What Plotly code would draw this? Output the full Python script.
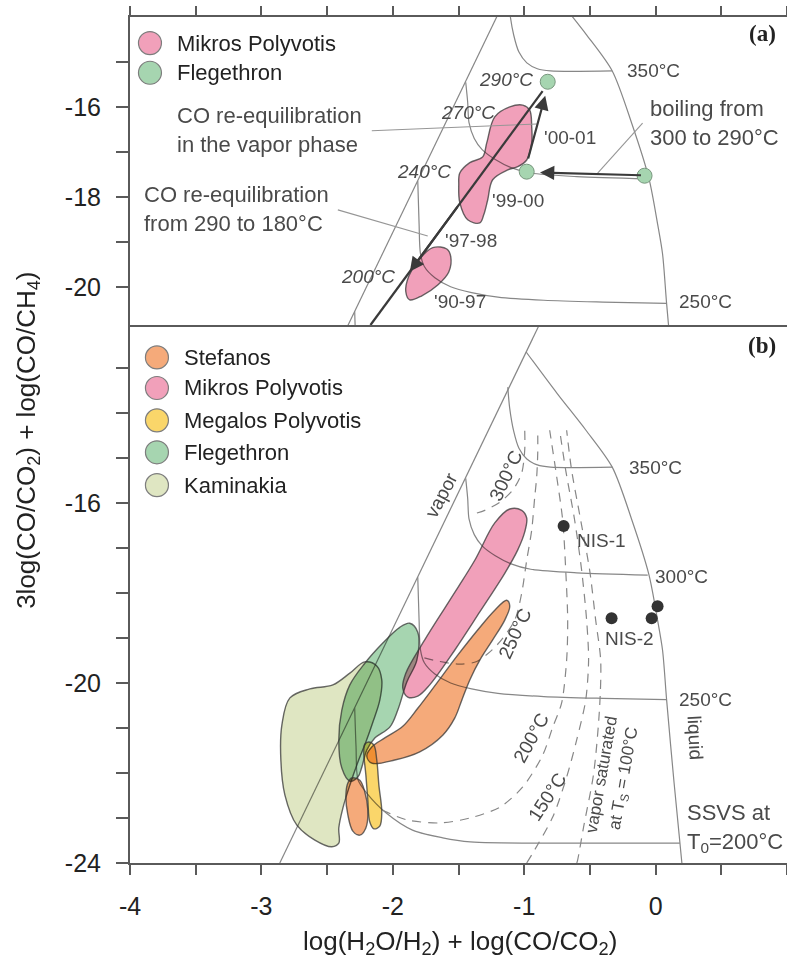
import plotly.graph_objects as go

# ---------------- styling ----------------
FONT = "Liberation Sans, Arial, Helvetica, sans-serif"
SERIF = "Liberation Serif, Times New Roman, serif"
INK = "#222222"
LABEL = "#4a4a4a"
GRID = "rgb(135,135,135)"
AXIS = "#5a5a5a"
EDGE = "rgba(55,55,55,0.75)"
ARROW = "#3a3a3a"

C_STEF = "rgb(245,170,122)"
C_MIKR = "rgb(241,160,186)"
C_MEGA = "rgb(250,214,106)"
C_FLEG = "rgb(166,213,176)"
C_KAMI = "rgb(223,230,194)"

# ---------------- axes ----------------
X_RANGE = [-4, 1]
YA_RANGE = [-20.85, -14.0]     # panel (a)
YB_RANGE = [-24.0, -12.04]     # panel (b)
x_tick_vals = [-4, -3.5, -3, -2.5, -2, -1.5, -1, -0.5, 0, 0.5, 1]
x_tick_text = ["-4", "", "-3", "", "-2", "", "-1", "", "0", "", "1"]
ya_tick_vals = [-20, -19, -18, -17, -16, -15]
ya_tick_text = ["-20", "", "-18", "", "-16", ""]
yb_tick_vals = list(range(-24, -12))
yb_tick_text = ["-24", "", "", "", "-20", "", "", "", "-16", "", "", ""]

# ---------------- reference grid (both panels) ----------------
vapor_x = [-2.86, -0.886]
vapor_y = [-24.0, -12.04]
liquid_x = [-0.985, -0.75, -0.53, -0.33, -0.18, -0.05, 0.015, 0.053, 0.084, 0.14, 0.20]
liquid_y = [-12.64, -13.56, -14.38, -15.2, -16.38, -17.6, -18.6, -19.27, -20.38, -22.2, -24.0]
iso350_x = [-1.125, -1.11, -1.08, -1.04, -0.98, -0.90, -0.80, -0.33]
iso350_y = [-13.42, -13.9, -14.4, -14.78, -15.02, -15.15, -15.2, -15.2]
iso300_x = [-1.445, -1.43, -1.42, -1.38, -1.32, -1.22, -1.10, -0.95, -0.60, -0.06]
iso300_y = [-15.45, -15.9, -16.35, -16.7, -16.95, -17.17, -17.35, -17.47, -17.55, -17.6]
iso250_x = [-1.81, -1.80, -1.79, -1.76, -1.68, -1.56, -1.40, -1.20, -0.85, -0.40, 0.084]
iso250_y = [-17.65, -18.6, -19.25, -19.55, -19.8, -20.0, -20.13, -20.23, -20.3, -20.34, -20.37]
iso200_x = [-2.29, -2.28, -2.265, -2.20, -2.05, -1.85, -1.62, -1.41, -0.73, 0.185]
iso200_y = [-20.55, -21.4, -22.15, -22.44, -22.89, -23.27, -23.44, -23.53, -23.56, -23.56]

# dashed vapour-separation curves (panel b)
ssvs300_x = [-1.36, -1.30, -1.186, -1.087, -1.019, -0.996, -0.996]
ssvs300_y = [-16.22, -16.16, -15.98, -15.71, -15.33, -14.82, -14.38]
ssvs250_x = [-1.76, -1.643, -1.49, -1.361, -1.209, -1.072, -1.019, -0.981, -0.943, -0.920, -0.905, -0.897, -0.897]
ssvs250_y = [-19.44, -19.52, -19.58, -19.52, -19.16, -18.6, -18.0, -17.27, -16.6, -15.87, -15.42, -14.89, -14.38]
ssvs200_x = [-2.08, -2.046, -1.894, -1.643, -1.414, -1.186, -1.011, -0.859, -0.783, -0.715, -0.677, -0.669, -0.684, -0.707, -0.760, -0.806]
ssvs200_y = [-22.82, -22.87, -23.04, -23.11, -23.0, -22.76, -22.31, -21.6, -20.98, -20.44, -19.49, -18.6, -17.49, -16.38, -15.27, -14.38]
ssvs150_x = [-0.981, -0.935, -0.783, -0.677, -0.601, -0.532, -0.510, -0.525, -0.563, -0.616, -0.684, -0.730]
ssvs150_y = [-24.0, -23.78, -22.98, -22.09, -21.27, -20.38, -19.49, -18.6, -17.49, -16.38, -15.27, -14.38]
ssvs100_x = [-0.60, -0.593, -0.548, -0.471, -0.426, -0.418, -0.456, -0.502, -0.570, -0.639, -0.677]
ssvs100_y = [-24.0, -23.93, -23.2, -22.0, -20.53, -19.49, -18.6, -17.49, -16.38, -15.27, -14.38]

# ---------------- panel (a): Mikros Polyvotis fields & Flegethron ----------------
mp_9901_x = [-1.011, -0.958, -0.943, -0.943, -0.981, -1.049, -1.125, -1.240, -1.278, -1.308, -1.338,
             -1.430, -1.490, -1.498, -1.490, -1.414, -1.316, -1.285, -1.224, -1.110]
mp_9901_y = [-15.96, -16.07, -16.44, -16.8, -17.18, -17.33, -17.4, -17.62, -18.07, -18.4, -18.58,
             -18.51, -18.13, -17.73, -17.47, -17.24, -17.11, -16.8, -16.22, -16.0]
mp_9097_x = [-1.696, -1.589, -1.559, -1.574, -1.658, -1.779, -1.871, -1.901, -1.878, -1.802]
mp_9097_y = [-19.13, -19.16, -19.33, -19.67, -19.96, -20.2, -20.29, -20.11, -19.76, -19.4]
fleg_a_x = [-0.821, -0.981, -0.084]
fleg_a_y = [-15.44, -17.44, -17.53]

# arrows (tail -> tip)
arrow_tail_x = [-1.50, -0.973, -0.10]
arrow_tail_y = [-18.19, -17.18, -17.52]
arrow_tip_x = [-1.87, -0.84, -0.88]
arrow_tip_y = [-19.66, -15.75, -17.46]
trend_x = [-0.86, -2.17]
trend_y = [-15.65, -20.85]

# leader lines from the notes
lead_vapor_x = [-2.160, -0.905]
lead_vapor_y = [-16.53, -16.38]
lead_reeq_x = [-2.418, -1.734]
lead_reeq_y = [-18.29, -18.87]
lead_boil_x = [-0.099, -0.441]
lead_boil_y = [-16.36, -17.47]

# ---------------- panel (b): fields ----------------
kami_x = [-2.213, -2.122, -2.084, -2.099, -2.152, -2.205, -2.266, -2.327, -2.380, -2.411, -2.411,
          -2.464, -2.593, -2.730, -2.821, -2.852, -2.844, -2.783, -2.631, -2.456, -2.327]
kami_y = [-19.53, -19.62, -19.93, -20.38, -20.87, -21.31, -21.76, -22.27, -22.78, -23.22, -23.56,
          -23.64, -23.49, -23.16, -22.49, -21.71, -20.93, -20.33, -20.13, -20.04, -19.78]
fleg_x = [-1.871, -1.810, -1.817, -1.894, -1.962, -2.023, -2.137, -2.198, -2.236, -2.266, -2.327,
          -2.388, -2.411, -2.388, -2.327, -2.213, -2.076, -1.947]
fleg_y = [-18.67, -18.87, -19.49, -19.98, -20.6, -20.98, -21.22, -21.49, -21.87, -22.09, -22.18,
          -21.89, -21.27, -20.6, -20.04, -19.56, -19.11, -18.76]
mikr_x = [-1.110, -1.019, -0.981, -0.996, -1.049, -1.148, -1.338, -1.529, -1.719, -1.810, -1.886,
          -1.924, -1.901, -1.757, -1.567, -1.376, -1.224]
mikr_y = [-16.13, -16.16, -16.33, -16.64, -17.04, -17.56, -18.42, -19.27, -20.04, -20.29, -20.31,
          -20.11, -19.78, -19.04, -18.16, -17.27, -16.44]
stef_x = [-1.133, -1.110, -1.148, -1.240, -1.338, -1.414, -1.475, -1.529, -1.620, -1.795, -1.985,
          -2.160, -2.198, -2.160, -2.061, -1.924, -1.810, -1.665, -1.506, -1.354, -1.224]
stef_y = [-18.16, -18.29, -18.6, -19.04, -19.49, -19.93, -20.38, -20.78, -21.16, -21.53, -21.71,
          -21.78, -21.62, -21.42, -21.22, -20.96, -20.56, -20.0, -19.38, -18.82, -18.38]
stef2_x = [-2.312, -2.251, -2.213, -2.190, -2.205, -2.251, -2.304, -2.342, -2.357, -2.342]
stef2_y = [-22.11, -22.16, -22.42, -22.82, -23.22, -23.38, -23.29, -22.93, -22.49, -22.22]
mega_x = [-2.183, -2.144, -2.122, -2.106, -2.084, -2.099, -2.144, -2.175, -2.190, -2.205, -2.221, -2.213]
mega_y = [-21.31, -21.38, -21.71, -22.27, -22.87, -23.18, -23.24, -23.09, -22.6, -22.04, -21.53, -21.36]

nis_x = [-0.70, -0.335, -0.030, 0.015]
nis_y = [-16.51, -18.56, -18.56, -18.29]

legend_a_names = ["Mikros Polyvotis", "Flegethron"]
legend_a_colors = [C_MIKR, C_FLEG]
legend_b_names = ["Stefanos", "Mikros Polyvotis", "Megalos Polyvotis", "Flegethron", "Kaminakia"]
legend_b_colors = [C_STEF, C_MIKR, C_MEGA, C_FLEG, C_KAMI]
legend_a_y = [-14.58, -15.24]
legend_b_y = [-12.76, -13.44, -14.16, -14.87, -15.6]

fig = go.Figure()


def axes(panel):
    return ("x", "y") if panel == "b" else ("x2", "y2")


def add_line(x, y, panel, color=GRID, width=1.2, dash=None, shape="spline"):
    xa, ya = axes(panel)
    fig.add_trace(go.Scatter(
        x=x, y=y, xaxis=xa, yaxis=ya, mode="lines",
        line=dict(color=color, width=width, dash=dash, shape=shape, smoothing=0.8),
        hoverinfo="skip", showlegend=False))


def add_field(x, y, panel, color):
    xa, ya = axes(panel)
    fig.add_trace(go.Scatter(
        x=list(x) + [x[0]], y=list(y) + [y[0]], xaxis=xa, yaxis=ya, mode="lines",
        fill="toself", fillcolor=color,
        line=dict(color=EDGE, width=1.4, shape="spline", smoothing=1.0),
        hoverinfo="skip", showlegend=False))


def add_text(text, x, y, panel, size=19, color=LABEL, xanchor="left", angle=0,
             family=FONT, align="left"):
    xa, ya = axes(panel)
    fig.add_annotation(text=text, x=x, y=y, xref=xa, yref=ya, showarrow=False,
                       xanchor=xanchor, yanchor="middle", textangle=angle, align=align,
                       font=dict(family=family, size=size, color=color))


# ---- grid lines in both panels ----
for panel in ("a", "b"):
    add_line(vapor_x, vapor_y, panel, shape="linear")
    add_line(liquid_x, liquid_y, panel)
    for gx, gy in ((iso350_x, iso350_y), (iso300_x, iso300_y),
                   (iso250_x, iso250_y), (iso200_x, iso200_y)):
        add_line(gx, gy, panel)

for gx, gy in ((ssvs300_x, ssvs300_y), (ssvs250_x, ssvs250_y), (ssvs200_x, ssvs200_y),
               (ssvs150_x, ssvs150_y), (ssvs100_x, ssvs100_y)):
    add_line(gx, gy, "b", dash="9px,7px")

# ---- panel (b) fields ----
add_field(kami_x, kami_y, "b", C_KAMI)
add_field(fleg_x, fleg_y, "b", C_FLEG)
add_field(mikr_x, mikr_y, "b", C_MIKR)
add_field(stef_x, stef_y, "b", C_STEF)
add_field(stef2_x, stef2_y, "b", C_STEF)
add_field(mega_x, mega_y, "b", C_MEGA)

fig.add_trace(go.Scatter(x=nis_x, y=nis_y, xaxis="x", yaxis="y", mode="markers",
                         marker=dict(size=12, color="#333333"), hoverinfo="skip",
                         showlegend=False))

# ---- panel (a) fields, leaders, arrows ----
add_field(mp_9901_x, mp_9901_y, "a", C_MIKR)
add_field(mp_9097_x, mp_9097_y, "a", C_MIKR)
for lx, ly in ((lead_vapor_x, lead_vapor_y), (lead_reeq_x, lead_reeq_y),
               (lead_boil_x, lead_boil_y)):
    add_line(lx, ly, "a", color="rgb(150,150,150)", width=1.1, shape="linear")
add_line(trend_x, trend_y, "a", color=ARROW, width=2.2, shape="linear")
for tx, ty, hx, hy in zip(arrow_tail_x, arrow_tail_y, arrow_tip_x, arrow_tip_y):
    fig.add_annotation(x=hx, y=hy, ax=tx, ay=ty, xref="x2", yref="y2", axref="x2",
                       ayref="y2", text="", showarrow=True, arrowhead=2, arrowsize=1.3,
                       arrowwidth=2.2, arrowcolor=ARROW, standoff=0)
fig.add_trace(go.Scatter(x=fleg_a_x, y=fleg_a_y, xaxis="x2", yaxis="y2", mode="markers",
                         marker=dict(size=15, color=C_FLEG,
                                     line=dict(color="rgb(120,150,125)", width=1)),
                         hoverinfo="skip", showlegend=False))

# ---- legends ----
fig.add_trace(go.Scatter(x=[-3.848] * len(legend_a_y), y=legend_a_y, xaxis="x2", yaxis="y2",
                         mode="markers", hoverinfo="skip", showlegend=False,
                         marker=dict(size=23, color=legend_a_colors,
                                     line=dict(color="rgb(125,125,125)", width=1.2))))
for name, yy in zip(legend_a_names, legend_a_y):
    add_text(name, -3.658, yy, "a", size=22, color=INK)
fig.add_trace(go.Scatter(x=[-3.795] * len(legend_b_y), y=legend_b_y, xaxis="x", yaxis="y",
                         mode="markers", hoverinfo="skip", showlegend=False,
                         marker=dict(size=23, color=legend_b_colors,
                                     line=dict(color="rgb(125,125,125)", width=1.2))))
for name, yy in zip(legend_b_names, legend_b_y):
    add_text(name, -3.605, yy, "b", size=22, color=INK)

# ---- panel (a) labels ----
add_text("350°C", -0.236, -15.18, "a")
add_text("250°C", 0.16, -20.33, "a")
add_text("<i>290°C</i>", -0.92, -15.4, "a", xanchor="right")
add_text("<i>270°C</i>", -1.209, -16.13, "a", xanchor="right")
add_text("<i>240°C</i>", -1.544, -17.44, "a", xanchor="right")
add_text("<i>200°C</i>", -1.97, -19.78, "a", xanchor="right")
add_text("'00-01", -0.867, -16.67, "a")
add_text("'99-00", -1.262, -18.07, "a")
add_text("'97-98", -1.62, -18.96, "a")
add_text("'90-97", -1.70, -20.33, "a")
add_text("CO re-equilibration<br>in the vapor phase", -3.658, -16.51, "a", size=22)
add_text("CO re-equilibration<br>from 290 to 180°C", -3.909, -18.28, "a", size=22)
add_text("boiling from<br>300 to 290°C", -0.061, -16.35, "a", size=22)
add_text("<b>(a)</b>", 0.93, -14.36, "a", size=23, color=INK, xanchor="right", family=SERIF)

# ---- panel (b) labels ----
add_text("350°C", -0.22, -15.2, "b")
add_text("300°C", -0.023, -17.62, "b")
add_text("250°C", 0.16, -20.36, "b")
add_text("liquid", 0.304, -21.2, "b", xanchor="center", angle=87)
add_text("SSVS at<br>T<sub>0</sub>=200°C", 0.22, -23.22, "b", size=22)
add_text("vapor", -1.635, -15.82, "b", xanchor="center", angle=-62)
add_text("300°C", -1.14, -15.38, "b", xanchor="center", angle=-65)
add_text("250°C", -1.072, -18.89, "b", xanchor="center", angle=-65)
add_text("200°C", -0.943, -21.22, "b", xanchor="center", angle=-61)
add_text("150°C", -0.821, -22.53, "b", xanchor="center", angle=-57)
add_text("vapor saturated<br>at T<sub>S</sub> = 100°C", -0.319, -22.09, "b", size=17,
         xanchor="center", angle=-80, align="center")
add_text("NIS-1", -0.616, -16.82, "b")
add_text("NIS-2", -0.403, -19.02, "b")
add_text("<b>(b)</b>", 0.93, -12.49, "b", size=23, color=INK, xanchor="right", family=SERIF)

# ---- axis titles ----
fig.add_annotation(text="3log(CO/CO<sub>2</sub>) + log(CO/CH<sub>4</sub>)", xref="paper",
                   yref="paper", x=-0.157, y=0.5, textangle=-90, showarrow=False,
                   xanchor="center", yanchor="middle", font=dict(family=FONT, size=26, color=INK))
fig.add_annotation(text="log(H<sub>2</sub>O/H<sub>2</sub>) + log(CO/CO<sub>2</sub>)", xref="paper",
                   yref="paper", x=0.502, y=-0.094, showarrow=False, xanchor="center",
                   yanchor="middle", font=dict(family=FONT, size=26, color=INK))

SPLIT = 538.0 / 846.0
ax_common = dict(showgrid=False, zeroline=False, showline=True, linecolor=AXIS, linewidth=2,
                 ticks="outside", tickcolor=AXIS, tickwidth=2)
fig.update_layout(
    width=787, height=969, margin=dict(l=130, r=0, t=17, b=106),
    paper_bgcolor="white", plot_bgcolor="white", showlegend=False,
    font=dict(family=FONT, color=INK),
    xaxis=dict(domain=[0, 1], range=X_RANGE, anchor="y", tickmode="array",
               tickvals=x_tick_vals, ticktext=x_tick_text, ticklen=10,
               tickfont=dict(size=25, color=INK), ticklabelstandoff=10, **ax_common),
    xaxis2=dict(domain=[0, 1], range=X_RANGE, anchor="y2", side="top", tickmode="array",
                tickvals=x_tick_vals, showticklabels=False, ticklen=9, mirror=True,
                **ax_common),
    yaxis=dict(domain=[0, SPLIT], range=YB_RANGE, anchor="x", tickmode="array",
               tickvals=yb_tick_vals, ticktext=yb_tick_text, ticklen=12,
               tickfont=dict(size=25, color=INK), ticklabelstandoff=10, **ax_common),
    yaxis2=dict(domain=[SPLIT, 1], range=YA_RANGE, anchor="x2", tickmode="array",
                tickvals=ya_tick_vals, ticktext=ya_tick_text, ticklen=12,
                tickfont=dict(size=25, color=INK), ticklabelstandoff=10, **ax_common),
)

# overlapping fields darken where they cross (multiply blending of the fills)
blend_js = """
var gd = document.getElementById('{plot_id}');
function blendFills() {
  gd.querySelectorAll('path.js-fill').forEach(function (p) {
    p.style.mixBlendMode = 'multiply';
  });
}
blendFills();
if (gd.on) { gd.on('plotly_afterplot', blendFills); }
"""

fig.write_html("out.html", post_script=blend_js)
